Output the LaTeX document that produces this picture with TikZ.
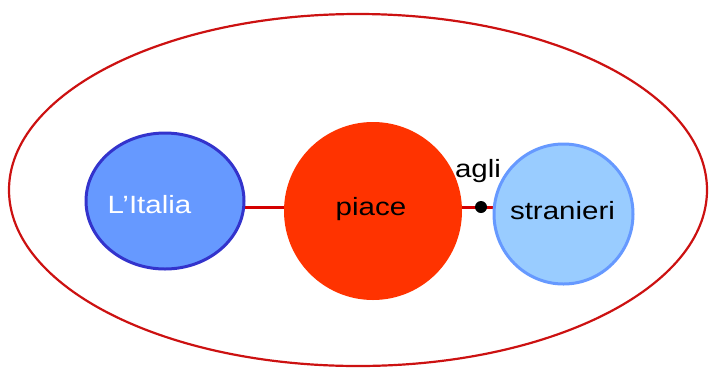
\documentclass[tikz,border=0pt]{standalone}
\usepackage{fontspec}
\setmainfont[FakeStretch=1.18]{Liberation Sans}
\usetikzlibrary{shapes.geometric,backgrounds}
\definecolor{outerred}{HTML}{CC1111}
\definecolor{connred}{HTML}{D40000}
\definecolor{italiafill}{HTML}{6699FF}
\definecolor{italiadraw}{HTML}{3333CC}
\definecolor{piacefill}{HTML}{FF3300}
\definecolor{stranfill}{HTML}{99CCFF}
\definecolor{strandraw}{HTML}{6699FF}
\tikzset{
  blob/.style={ellipse, inner sep=0pt, line width=3pt},
  lbl/.style={anchor=base, inner sep=0pt, font=\fontsize{25}{28}\selectfont},
  conn/.style={draw=connred, line width=3pt},
}
\begin{document}
\begin{tikzpicture}[x=1pt,y=-1pt]
\useasboundingbox (0,0) rectangle (710,368);
\node[ellipse, draw=outerred, line width=2.2pt, minimum width=698pt, minimum height=352pt, inner sep=0pt] (outer) at (358,190) {};
\node[blob, fill=italiafill, draw=italiadraw, minimum width=158pt, minimum height=136pt] (italia) at (165,201) {};
\node[blob, fill=piacefill, minimum width=178pt, minimum height=178pt, line width=0pt] (piace) at (373,211) {};
\node[blob, fill=stranfill, draw=strandraw, minimum width=139pt, minimum height=140pt] (stranieri) at (563.5,214) {};
\node[circle, fill=black, inner sep=0pt, minimum size=12pt] (dot) at (481,207) {};
\begin{scope}[on background layer]
\draw[conn] (italia.center |- dot) -- (stranieri.center |- dot);
\end{scope}
\node[lbl, text=white] (tItalia) at (149.5,213) {L’Italia};
\node[lbl] (tPiace) at (371,215) {piace};
\node[lbl] (tStranieri) at (562.5,219) {stranieri};
\node[lbl] (tAgli) at (478,177) {agli};
\end{tikzpicture}
\end{document}
